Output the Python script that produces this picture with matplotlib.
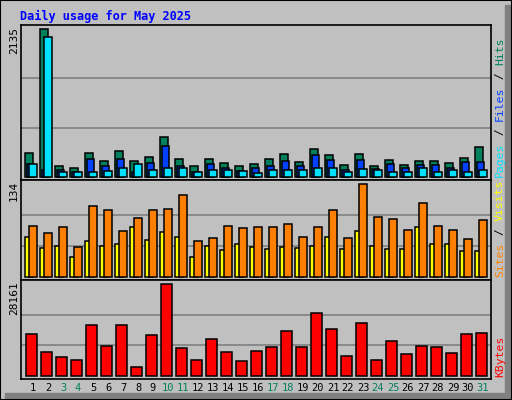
import matplotlib
matplotlib.use("Agg")
import matplotlib.pyplot as plt
import numpy as np

days = list(range(1, 32))
weekend = [3, 4, 10, 11, 17, 18, 24, 25, 31]

hits = [350, 2135, 160, 120, 340, 230, 370, 220, 290, 570, 260, 150, 260, 200, 150, 180,
        250, 325, 210, 400, 310, 165, 325, 150, 235, 165, 220, 220, 195, 265, 425]
files = [190, 90, 100, 70, 260, 150, 260, 70, 200, 450, 150, 70, 180, 120, 80, 120,
         150, 220, 150, 310, 235, 90, 235, 105, 180, 120, 165, 165, 120, 210, 210]
pages = [190, 2030, 70, 70, 70, 80, 120, 180, 100, 120, 120, 70, 100, 100, 80, 60,
         90, 90, 90, 120, 120, 75, 105, 90, 75, 75, 120, 75, 90, 75, 90]
sites = [58, 41, 44, 29, 51, 45, 48, 72, 53, 64, 58, 29, 44, 38, 48, 43,
         40, 43, 41, 45, 58, 40, 66, 45, 40, 40, 72, 48, 48, 37, 37]
visits = [73, 63, 72, 43, 103, 96, 66, 85, 96, 98, 118, 51, 56, 74, 70, 72,
          72, 76, 58, 72, 96, 56, 134, 86, 83, 67, 106, 74, 67, 54, 82]
kbytes = [12750, 7200, 5650, 4730, 15520, 9050, 15520, 2570, 12440, 28161, 8430, 4730,
          11200, 7200, 4420, 7500, 8740, 13670, 8740, 19220, 14290, 5960, 16140, 4730,
          10590, 6580, 9050, 8740, 6890, 12750, 13060]

BG = "#c0c0c0"
GRID = "#808080"
W, H = 512, 400

fig = plt.figure(figsize=(W / 100, H / 100), dpi=100, facecolor=BG)


def fy(p):
    return 1 - p / H


def fx(p):
    return p / W


def make_ax(top, bottom):
    ax = fig.add_axes([fx(20.7), fy(bottom), fx(490.7 - 20.7), (bottom - top) / H])
    ax.set_facecolor(BG)
    ax.set_xlim(20.7, 490.7)
    ax.set_xticks([])
    ax.set_yticks([])
    for s in ax.spines.values():
        s.set_color("black")
        s.set_linewidth(1.2)
    return ax


x0 = 25 + 15 * (np.array(days) - 1)

# top panel: hits / files / pages
ax1 = make_ax(25, 180)
ax1.set_ylim(-48, 2197)
for g in (max(hits) / 3, 2 * max(hits) / 3):
    ax1.axhline(g, color=GRID, lw=1.2, zorder=0)
bw = 7.5
kw = dict(align="edge", edgecolor="black", linewidth=1.1)
ax1.bar(x0, hits, bw, color="#00805c", **kw)
ax1.bar(x0 + 1.8, files, bw, color="#0040ff", **kw)
ax1.bar(x0 + 4.0, pages, bw, color="#00e0ff", **kw)

# middle panel: sites / visits
ax2 = make_ax(180, 280)
ax2.set_ylim(-4.8, 140)
for g in (max(visits) / 3, 2 * max(visits) / 3):
    ax2.axhline(g, color=GRID, lw=1.2, zorder=0)
ax2.bar(x0, sites, bw, color="#ffff00", **kw)
ax2.bar(x0 + 4.3, visits, bw, color="#ff8000", **kw)

# bottom panel: kbytes
ax3 = make_ax(280, 379)
ax3.set_ylim(-1018, 29514)
for g in (max(kbytes) / 3, 2 * max(kbytes) / 3):
    ax3.axhline(g, color=GRID, lw=1.2, zorder=0)
ax3.bar(x0 + 1, kbytes, 10.5, color="#ff0000", **kw)

mono = "DejaVu Sans Mono"
fig.text(fx(20), fy(16), "Daily usage for May 2025", color="#0000ff", family=mono,
         fontsize=8.6, fontweight="bold", va="center", ha="left")

# max labels on the left
for lab, top in ((str(max(hits)), 27), (str(max(visits)), 181), (str(max(kbytes)), 281)):
    fig.text(fx(14), fy(top), lab, rotation=90, family=mono, fontsize=8,
             ha="center", va="top")

# day labels
for d, xp in zip(days, x0):
    c = "#00805c" if d in weekend else "black"
    fig.text(fx(xp + 8), fy(388), str(d), color=c, family=mono, fontsize=7.5,
             ha="center", va="center")


def side_label(parts, bottom):
    y = bottom
    for txt, col in parts:
        fig.text(fx(500), fy(y), txt, rotation=90, color=col, family=mono,
                 fontsize=8.2, ha="center", va="bottom")
        y -= 7.0 * len(txt)


side_label([("Pages", "#00e0ff"), (" / ", "black"), ("Files", "#0040ff"),
            (" / ", "black"), ("Hits", "#00805c")], 177)
side_label([("Sites", "#ff8000"), (" / ", "black"), ("Visits", "#ffff00")], 277)
side_label([("KBytes", "#ff0000")], 377)

# frame and shadow
fig.patches.append(plt.Rectangle((fx(505), 0), fx(7), fy(5), transform=fig.transFigure,
                                 color="#808080", zorder=-1))
fig.patches.append(plt.Rectangle((fx(5), 0), 1, fy(393), transform=fig.transFigure,
                                 color="#808080", zorder=-1))
fig.patches.append(plt.Rectangle((0, 0), 1, 1, transform=fig.transFigure, fill=False,
                                 edgecolor="black", linewidth=1.5))

fig.savefig("out.png", dpi=100, facecolor=BG)
